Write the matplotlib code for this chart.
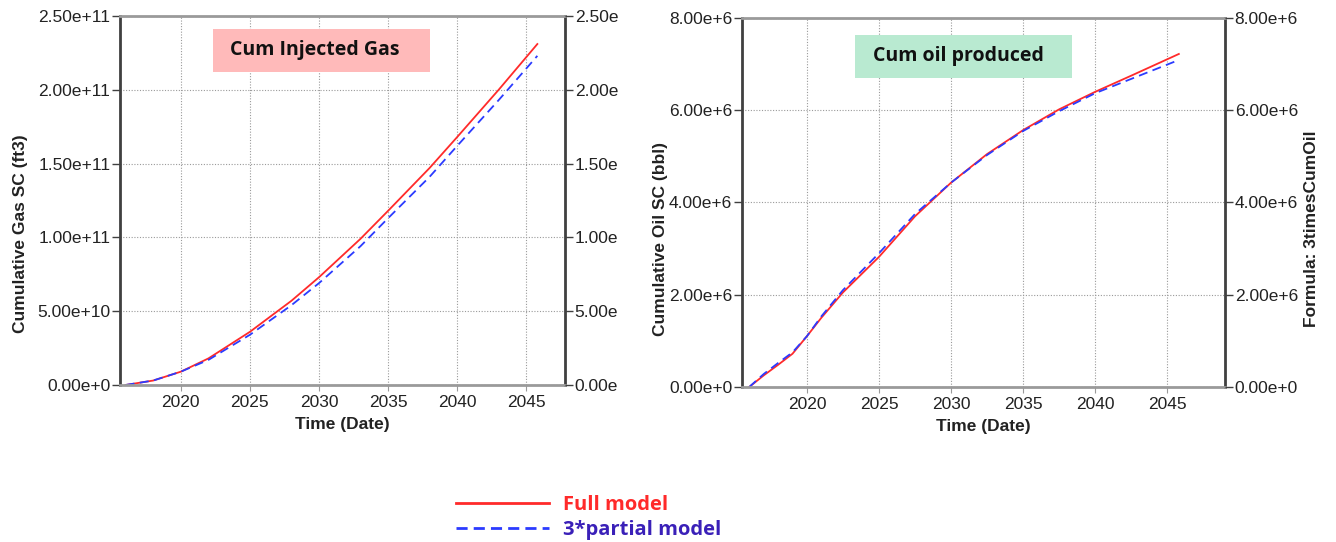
import matplotlib
matplotlib.use("Agg")
import matplotlib.pyplot as plt
from matplotlib.lines import Line2D
from matplotlib.patches import Rectangle

plt.rcParams['font.family'] = ['Liberation Sans', 'DejaVu Sans']

# cumulative injected gas (ft3)
gas_years = [2016, 2018, 2020, 2022, 2025, 2028, 2030, 2033, 2035, 2038, 2040, 2043, 2045.8]
gas_full = [0, 0.3e10, 0.9e10, 1.8e10, 3.6e10, 5.7e10, 7.3e10, 9.9e10, 1.18e11, 1.47e11, 1.68e11, 2.0e11, 2.31e11]
gas_partial = [0, 0.3e10, 0.9e10, 1.7e10, 3.4e10, 5.4e10, 6.9e10, 9.4e10, 1.13e11, 1.41e11, 1.62e11, 1.93e11, 2.23e11]

# cumulative oil produced (bbl)
oil_years = [2016, 2017, 2018, 2019, 2020, 2021, 2022.5, 2025, 2027.5, 2030, 2032.5, 2035, 2037.5, 2040, 2042.5, 2045.8]
oil_full = [0, 0.25e6, 0.48e6, 0.72e6, 1.1e6, 1.5e6, 2.05e6, 2.82e6, 3.7e6, 4.43e6, 5.05e6, 5.57e6, 6.02e6, 6.4e6, 6.75e6, 7.22e6]
oil_partial = [0, 0.28e6, 0.52e6, 0.75e6, 1.1e6, 1.53e6, 2.1e6, 2.9e6, 3.75e6, 4.43e6, 5.03e6, 5.55e6, 5.98e6, 6.37e6, 6.68e6, 7.09e6]

x_ticks = [2020, 2025, 2030, 2035, 2040, 2045]
gas_ticks = [0, 5e10, 1e11, 1.5e11, 2e11, 2.5e11]
gas_labels = ['0.00e+0', '5.00e+10', '1.00e+11', '1.50e+11', '2.00e+11', '2.50e+11']
gas_right_labels = ['0.00e', '5.00e', '1.00e', '1.50e', '2.00e', '2.50e']
oil_ticks = [0, 2e6, 4e6, 6e6, 8e6]
oil_labels = ['0.00e+0', '2.00e+6', '4.00e+6', '6.00e+6', '8.00e+6']

RED = '#ff2a2a'
BLUE = '#2b3bff'
W, H = 1336, 542

fig = plt.figure(figsize=(W / 100, H / 100), dpi=100)


def style_axes(ax, twin):
    for side in ['top', 'bottom']:
        ax.spines[side].set_color('#9a9a9a')
        ax.spines[side].set_linewidth(2)
    for side in ['left', 'right']:
        ax.spines[side].set_color('#404040')
        ax.spines[side].set_linewidth(2)
    for a in (ax, twin):
        a.tick_params(axis='y', length=6, width=1, color='#404040', labelsize=12.5, pad=1,
                      labelcolor='#222222')
    ax.tick_params(axis='x', length=4, color='#9a9a9a', labelsize=12.5, pad=3, labelcolor='#222222')
    ax.grid(True, color='#9a9a9a', linestyle=(0, (1, 1.5)), linewidth=0.8)
    ax.set_xlabel('Time (Date)', fontsize=12.5, fontweight='bold', color='#222222', labelpad=5)


def make_panel(rect, years, full, partial, ticks, labels, right_labels, xlim, ylim):
    ax = fig.add_axes(rect)
    ax.plot(years, full, color=RED, linewidth=1.3)
    ax.plot(years, partial, color=BLUE, linewidth=1.3, linestyle=(0, (5, 3)))
    ax.set_xlim(*xlim)
    ax.set_ylim(*ylim)
    ax.set_xticks(x_ticks)
    ax.set_yticks(ticks)
    ax.set_yticklabels(labels)
    twin = ax.twinx()
    twin.set_ylim(*ylim)
    twin.set_yticks(ticks)
    twin.set_yticklabels(right_labels)
    style_axes(ax, twin)
    for s in twin.spines.values():
        s.set_visible(False)
    return ax, twin


def title_box(x0, y0, x1, y1, text, color, text_x):
    # box given in pixel coords from the top-left corner
    fig.patches.append(Rectangle((x0 / W, 1 - y1 / H), (x1 - x0) / W, (y1 - y0) / H,
                                 transform=fig.transFigure, facecolor=color,
                                 edgecolor='none', zorder=5))
    fig.text(text_x / W, 1 - (y0 + y1) / 2 / H, text, ha='center', va='center',
             fontsize=14, fontweight='bold', family='Open Sans', color='#111111', zorder=6)


ax1, tw1 = make_panel([0.0898, 0.2897, 0.3331, 0.6808], gas_years, gas_full, gas_partial,
                      gas_ticks, gas_labels, gas_right_labels, (2015.6, 2047.8), (0, 2.5e11))
ax1.set_ylabel('Cumulative Gas SC (ft3)', fontsize=12.5, fontweight='bold', color='#222222')
ax1.yaxis.set_label_coords(-0.207, 0.41)
title_box(213, 29, 430, 72, 'Cum Injected Gas', '#ffbaba', 315)

ax2, tw2 = make_panel([0.5554, 0.2860, 0.3615, 0.6808], oil_years, oil_full, oil_partial,
                      oil_ticks, oil_labels, oil_labels, (2015.5, 2049.0), (0, 8e6))
ax2.set_ylabel('Cumulative Oil SC (bbl)', fontsize=12.5, fontweight='bold', color='#222222')
ax2.yaxis.set_label_coords(-0.153, 0.40)
tw2.set_ylabel('Formula: 3timesCumOil', fontsize=12.5, fontweight='bold', color='#222222')
tw2.yaxis.set_label_coords(1.163, 0.43)
title_box(855, 35, 1072, 78, 'Cum oil produced', '#b9ead1', 958)

# legend at the bottom
handles = [Line2D([], [], color=RED, linewidth=2),
           Line2D([], [], color=BLUE, linewidth=2, linestyle=(0, (4, 2.2)))]
leg = fig.legend(handles, ['Full model', '3*partial model'], loc='center left',
                 bbox_to_anchor=(0.328, 0.045), frameon=False, handlelength=4.6,
                 handletextpad=0.7, labelspacing=0.25,
                 prop=dict(family='Open Sans', weight='bold', size=14.5))
for txt, c in zip(leg.get_texts(), [RED, '#3a20b8']):
    txt.set_color(c)

fig.savefig('out.png', dpi=100)
